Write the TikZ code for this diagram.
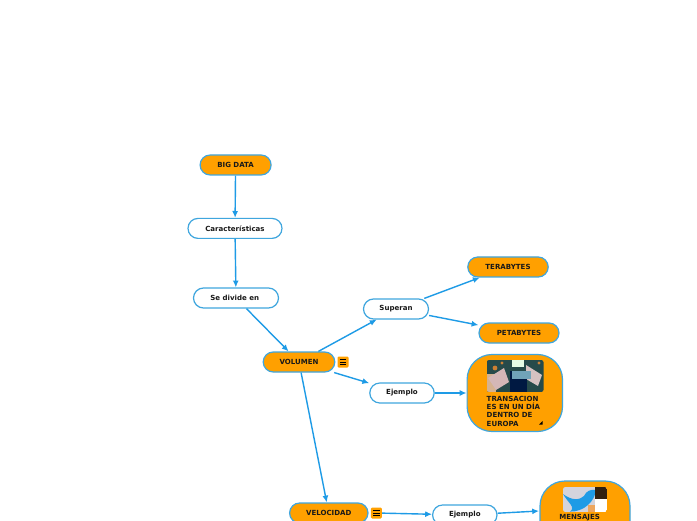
\documentclass[tikz,border=0pt]{standalone}
\usepackage{fontspec}
\setmainfont{DejaVu Sans}
\usepackage{xcolor}
\usetikzlibrary{positioning,calc,arrows.meta}
\definecolor{mapblue}{HTML}{1E9BE6}
\definecolor{mapline}{HTML}{3FA6DE}
\definecolor{maporange}{HTML}{FFA000}
\tikzset{
  topic/.style={draw=mapline,line width=0.06cm,rounded corners=0.5cm,minimum height=1cm,font=\bfseries,text=black!90,inner sep=0pt},
  filled/.style={topic,fill=maporange},
  plain/.style={topic,fill=white},
  card/.style={draw=mapline,line width=0.06cm,fill=maporange,rounded corners=1.25cm,inner sep=0pt},
  menu/.style={fill=maporange,rounded corners=0.06cm,minimum size=0.55cm,inner sep=0pt}
}
\newcommand{\menulines}[1]{
  \draw[black,line width=0.04cm] ($(#1)+(-0.16,0.14)$) -- ++(0.32,0);
  \draw[black,line width=0.04cm] ($(#1)+(-0.16,0)$) -- ++(0.32,0);
  \draw[black,line width=0.04cm] ($(#1)+(-0.16,-0.14)$) -- ++(0.32,0);
}
\begin{document}
\begin{tikzpicture}
        \clip (0,0) rectangle (34.85,26);
        \fill[white] (0,0) rectangle (34.85,26);
        \node[filled,minimum width=3.55cm] (bigdata) at (11.78,17.75) {BIG DATA};
        \node[plain,minimum width=4.7cm] (carac) at (11.75,14.58) {Características};
        \node[plain,minimum width=4.25cm] (divide) at (11.8,11.1) {Se divide en\ \ };
        \node[filled,minimum width=3.58cm] (volumen) at (14.95,7.9) {VOLUMEN};
        \node[plain,minimum width=3.25cm] (superan) at (19.8,10.55) {Superan};
        \node[filled,minimum width=4.02cm] (tera) at (25.4,12.65) {TERABYTES};
        \node[filled,minimum width=4cm] (peta) at (25.95,9.35) {PETABYTES};
        \node[plain,minimum width=3.22cm] (ejemploa) at (20.1,6.35) {Ejemplo};
        \node[card,minimum width=4.77cm,minimum height=3.85cm] (transac) at (25.74,6.35) {};
        \node[filled,minimum width=3.92cm] (velocidad) at (16.44,0.35) {VELOCIDAD};
        \node[plain,minimum width=3.22cm] (ejemplob) at (23.24,0.25) {Ejemplo};
        \node[card,minimum width=4.5cm,minimum height=6cm] (mensajes) at (29.25,-1.05) {};
        \node[menu] (menua) at (17.15,7.9) {};
        \node[menu] (menub) at (18.82,0.35) {};
        \menulines{menua}
        \menulines{menub}
        % pictures inside the cards
        \begin{scope}
            \clip[rounded corners=0.12cm] (24.33,6.4) rectangle (27.18,8);
            \fill[black!60!teal!70!gray] (24.33,6.4) rectangle (27.18,8);
            \fill[orange!45!gray!60!white] (24.33,6.4) rectangle (24.8,7.3);
            \fill[red!25!gray!45!white] (24.4,7.1) -- (25.2,7.6) -- (25.45,6.9) -- (24.8,6.5) -- cycle;
            \fill[black!15!green!10!white] (25.6,7.65) rectangle (26.2,8);
            \fill[red!20!gray!40!white] (26.3,7.75) -- (27.1,7.25) -- (26.9,6.7) -- (26.3,7.05) -- cycle;
            \fill[black!80!blue!80!teal] (25.5,6.4) rectangle (26.35,7.45);
            \fill[cyan!40!gray] (25.6,7.05) rectangle (26.55,7.45);
            \fill[orange!60!gray] (24.75,7.6) circle (0.12);
            \fill[orange!60!gray] (25.1,7.85) circle (0.08);
            \fill[orange!60!gray] (26.95,7.85) circle (0.08);
        \end{scope}
        \node[anchor=north west,align=left,inner sep=0pt,font=\bfseries\fontsize{10}{11.8}\selectfont,text=black!90] (transactext) at (24.33,6.2)
            {TRANSACION\\ES EN UN DÍA\\DENTRO DE\\EUROPA};
        \fill[black] (27.13,4.77) -- (26.95,4.77) -- (27.13,4.95) -- cycle;
        \begin{scope}
            \clip[rounded corners=0.12cm] (28.15,0.4) rectangle (30.35,1.65);
            \fill[blue!12!gray!30] (28.15,0.4) rectangle (30.35,1.65);
            \fill[mapblue] (28.15,1.3) .. controls (28.6,0.95) and (29,1) .. (29.2,1.2)
                .. controls (29.3,1.45) and (29.55,1.55) .. (29.8,1.5)
                .. controls (29.75,0.95) and (29.2,0.4) .. (28.5,0.42)
                .. controls (28.8,0.65) and (28.4,0.85) .. cycle;
            \fill[orange!60!brown!70!white] (29.4,0.4) rectangle (29.8,0.75);
            \fill[white] (29.75,0.4) rectangle (30.35,1.05);
            \fill[black!75!brown] (29.75,1.05) rectangle (30.35,1.65);
        \end{scope}
        \node[font=\bfseries,text=black!90,inner sep=0pt] (mensajestext) at (28.98,0.11) {MENSAJES};
        \coordinate (mensajesin) at (26.95,0.45);
        \begin{scope}[every edge/.style={line width=0.07cm,draw=mapblue},>={Latex[length=0.34cm,width=0.3cm]}]
            \path [->] (bigdata) edge (carac);
            \path [->] (carac) edge (divide);
            \path [->] (divide) edge (volumen);
            \path [->] (volumen) edge (superan);
            \path [->] (volumen) edge (ejemploa);
            \path [->] (volumen) edge (velocidad);
            \path [->] (superan) edge (tera);
            \path [->] (superan) edge (peta);
            \path [->] (ejemploa) edge (transac);
            \path [->] (menub) edge (ejemplob);
            \path [->] (ejemplob) edge (mensajesin);
        \end{scope}
    \end{tikzpicture}
\end{document}
